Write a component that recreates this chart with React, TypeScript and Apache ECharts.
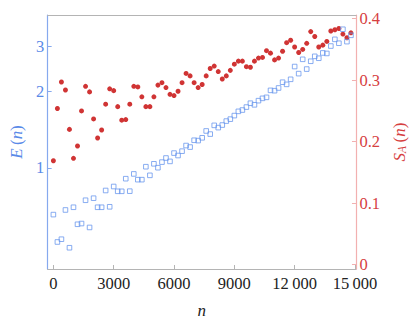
import React, { useEffect, useRef } from "react";
import * as echarts from "echarts";

// sample index n
const nValues = [
  0, 200, 400, 600, 800, 1000, 1200, 1400, 1600, 1800,
  2000, 2200, 2400, 2600, 2800, 3000, 3200, 3400, 3600, 3800,
  4000, 4200, 4400, 4600, 4800, 5000, 5200, 5400, 5600, 5800,
  6000, 6200, 6400, 6600, 6800, 7000, 7200, 7400, 7600, 7800,
  8000, 8200, 8400, 8600, 8800, 9000, 9200, 9400, 9600, 9800,
  10000, 10200, 10400, 10600, 10800, 11000, 11200, 11400, 11600, 11800,
  12000, 12200, 12400, 12600, 12800, 13000, 13200, 13400, 13600, 13800,
  14000, 14200, 14400, 14600, 14800,
];

// E(n), left log axis (blue squares)
const energy = [
  0.655, 0.511, 0.524, 0.683, 0.485, 0.7, 0.6, 0.604, 0.746, 0.583,
  0.76, 0.7, 0.7, 0.815, 0.703, 0.845, 0.809, 0.809, 0.907, 0.81,
  0.947, 0.899, 0.899, 1.011, 0.935, 1.038, 1.002, 1.054, 1.094, 1.061,
  1.144, 1.119, 1.164, 1.225, 1.208, 1.285, 1.281, 1.314, 1.398, 1.359,
  1.471, 1.441, 1.475, 1.529, 1.556, 1.607, 1.67, 1.69, 1.736, 1.798,
  1.772, 1.84, 1.879, 1.896, 2.02, 2.014, 2.064, 2.175, 2.133, 2.233,
  2.507, 2.351, 2.677, 2.45, 2.63, 2.75, 2.703, 2.836, 2.823, 3.019,
  3.208, 3.097, 3.515, 3.142, 3.327,
];

// S_A(n), right axis (red dots)
const entropy = [
  0.169, 0.254, 0.297, 0.284, 0.22, 0.173, 0.193, 0.25, 0.29, 0.281,
  0.237, 0.206, 0.219, 0.261, 0.286, 0.283, 0.257, 0.235, 0.236, 0.261,
  0.29, 0.289, 0.273, 0.257, 0.257, 0.273, 0.292, 0.296, 0.288, 0.277,
  0.275, 0.282, 0.296, 0.311, 0.307, 0.296, 0.288, 0.293, 0.307, 0.319,
  0.323, 0.314, 0.302, 0.307, 0.316, 0.326, 0.331, 0.331, 0.322, 0.321,
  0.331, 0.336, 0.337, 0.348, 0.344, 0.333, 0.336, 0.347, 0.361, 0.365,
  0.354, 0.345, 0.35, 0.36, 0.379, 0.371, 0.354, 0.357, 0.363, 0.38,
  0.382, 0.384, 0.375, 0.369, 0.377,
];

const xTicks = [0, 3000, 6000, 9000, 12000, 15000];
const eTicks = [1, 2, 3];
const sTicks = [0, 0.1, 0.2, 0.3, 0.4];

const FONT = "Liberation Serif";
const BLUE = "#5a8ae8";
const BLUE_LINE = "#86a9ee";
const SQUARE = "#6b98ee";
const RED = "#d03434";
const RED_LABEL = "#d6403f";
const PINK = "#f2b0b0";
const GRAY = "#b4b4b4";
const INK = "#222222";

const fmtX = (v: number) =>
  v >= 10000 ? String(v).replace(/\B(?=(\d{3})+(?!\d))/g, "\u2009") : String(v);

export default function App() {
  const ref = useRef<HTMLDivElement>(null);

  useEffect(() => {
    if (!ref.current) return;
    const chart = echarts.init(ref.current, undefined, { renderer: "svg" });
    const xMin = -285;
    const xMax = 15050;
    const eMin = Math.log10(0.4);
    const eMax = Math.log10(4);

    const option: any = {
      animation: false,
      backgroundColor: "#ffffff",
      textStyle: { fontFamily: FONT },
      grid: { left: 39.5, right: 53, top: 15, bottom: 49, containLabel: false },
      xAxis: [
        {
          type: "value",
          position: "bottom",
          min: xMin,
          max: xMax,
          axisLine: { show: true, onZero: false, lineStyle: { color: GRAY, width: 1.2 } },
          axisTick: {
            show: true,
            inside: true,
            length: 4,
            customValues: xTicks,
            lineStyle: { color: GRAY, width: 1 },
          },
          axisLabel: {
            customValues: xTicks,
            formatter: (v: number) => fmtX(v),
            margin: 6,
            color: INK,
            fontFamily: FONT,
            fontSize: 16.5,
          },
          splitLine: { show: false },
          name: "n",
          nameLocation: "middle",
          nameGap: 33,
          nameTextStyle: { fontFamily: FONT, fontStyle: "italic", fontSize: 17, color: INK },
        },
        {
          type: "value",
          position: "top",
          min: xMin,
          max: xMax,
          axisLine: { show: true, onZero: false, lineStyle: { color: GRAY, width: 1.2 } },
          axisTick: { show: false },
          axisLabel: { show: false },
          splitLine: { show: false },
        },
      ],
      yAxis: [
        {
          type: "value",
          position: "left",
          min: eMin,
          max: eMax,
          axisLine: { show: true, onZero: false, lineStyle: { color: BLUE_LINE, width: 1.2 } },
          axisTick: {
            show: true,
            inside: true,
            length: 4,
            customValues: eTicks.map((t) => Math.log10(t)),
            lineStyle: { color: BLUE_LINE, width: 1 },
          },
          axisLabel: {
            customValues: eTicks.map((t) => Math.log10(t)),
            formatter: (v: number) => String(Math.round(Math.pow(10, v))),
            margin: 3.5,
            color: BLUE,
            fontFamily: FONT,
            fontSize: 16.5,
          },
          splitLine: { show: false },
          name: "{i|E}{r|\u2009(}{i|n}{r|)}",
          nameLocation: "middle",
          nameRotate: 90,
          nameGap: 22,
          nameTextStyle: {
            color: BLUE,
            fontFamily: FONT,
            fontSize: 17,
            rich: {
              i: { fontFamily: FONT, fontStyle: "italic", fontSize: 17, color: BLUE },
              r: { fontFamily: FONT, fontSize: 17, color: BLUE },
            },
          },
        },
        {
          type: "value",
          position: "right",
          min: -0.007,
          max: 0.406,
          axisLine: { show: true, onZero: false, lineStyle: { color: PINK, width: 1.2 } },
          axisTick: {
            show: true,
            inside: true,
            length: 4,
            customValues: sTicks,
            lineStyle: { color: PINK, width: 1 },
          },
          axisLabel: {
            customValues: sTicks,
            formatter: (v: number) => (v === 0 ? "0" : String(Math.round(v * 10) / 10)),
            margin: 3.5,
            color: RED_LABEL,
            fontFamily: FONT,
            fontSize: 16.5,
          },
          splitLine: { show: false },
          name: "{i|S}{s|A}{r|\u2009(}{i|n}{r|)}",
          nameLocation: "middle",
          nameRotate: 90,
          nameGap: 34,
          nameTextStyle: {
            color: RED_LABEL,
            fontFamily: FONT,
            fontSize: 17,
            rich: {
              i: { fontFamily: FONT, fontStyle: "italic", fontSize: 17, color: RED_LABEL },
              s: {
                fontFamily: FONT,
                fontStyle: "italic",
                fontSize: 11.5,
                color: RED_LABEL,
                verticalAlign: "bottom",
                padding: [5, 0, 0, 0],
              },
              r: { fontFamily: FONT, fontSize: 17, color: RED_LABEL },
            },
          },
        },
      ],
      series: [
        {
          type: "scatter",
          xAxisIndex: 0,
          yAxisIndex: 1,
          symbol: "circle",
          symbolSize: 5,
          itemStyle: { color: RED, opacity: 1 },
          data: nValues.map((n, i) => [n, entropy[i]]),
        },
        {
          type: "scatter",
          xAxisIndex: 0,
          yAxisIndex: 0,
          symbol: "rect",
          symbolSize: 4.6,
          itemStyle: { color: "rgba(255,255,255,0)", borderColor: SQUARE, borderWidth: 1 },
          data: nValues.map((n, i) => [n, Math.log10(energy[i])]),
        },
      ],
    };
    chart.setOption(option);
    return () => chart.dispose();
  }, []);

  return (
    <div
      ref={ref}
      style={{ position: "fixed", left: 0, top: 0, width: 416, height: 324, background: "#fff" }}
    />
  );
}
